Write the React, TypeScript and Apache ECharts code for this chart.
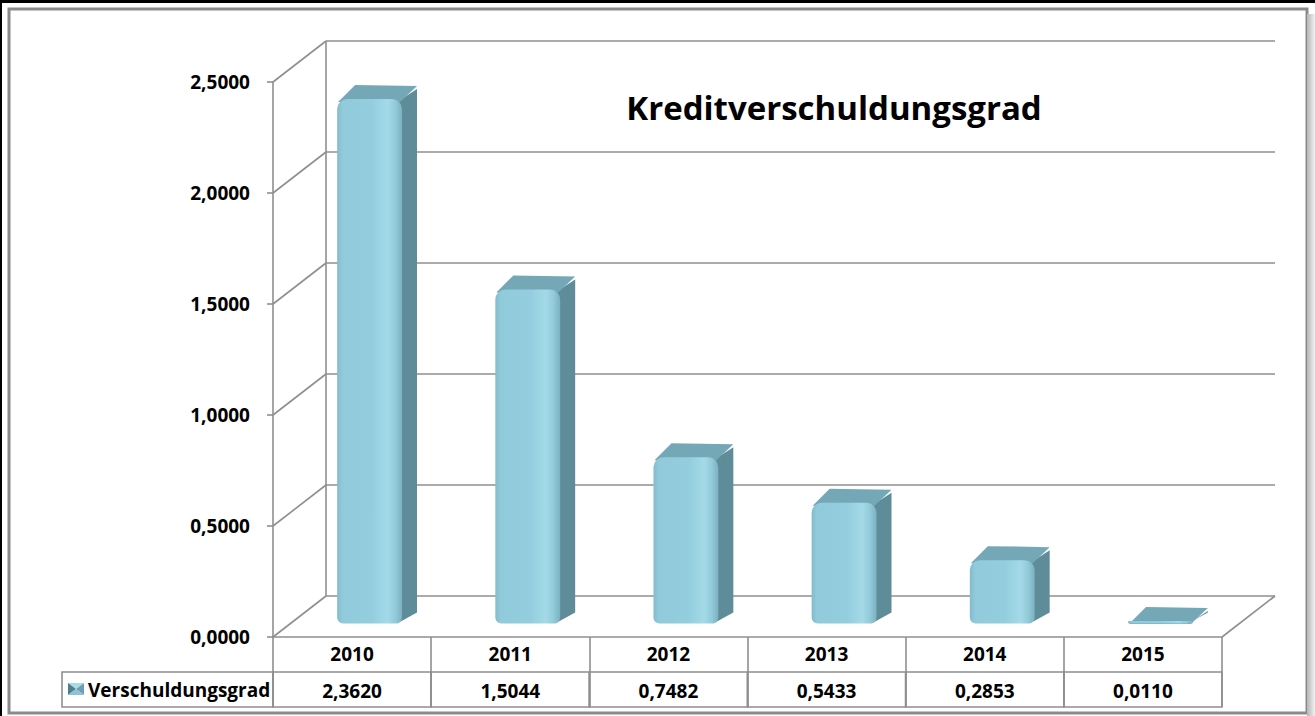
import React, { useEffect, useRef } from "react";
import * as echarts from "echarts";

const TITLE = "Kreditverschuldungsgrad";
const SERIES_NAME = "Verschuldungsgrad";
const YEARS = ["2010", "2011", "2012", "2013", "2014", "2015"];
const VALUES = [2.362, 1.5044, 0.7482, 0.5433, 0.2853, 0.011];
const Y_TICKS = [0, 0.5, 1, 1.5, 2, 2.5];

const FONT = "'Open Sans', 'Noto Sans', sans-serif";
const GRID_COLOR = "#8f8f8f";
// 3D perspective offsets (pixels) of the back wall relative to the front plane
const DEPTH_X = 53;
const DEPTH_Y = -41;
const BAR_FRONT = 0.33; // depth fraction of bar front face
const BAR_DX = 15; // bar thickness (pixels, x)
const BAR_DY = -14; // bar thickness (pixels, y)
const BAR_WIDTH = 0.41; // fraction of band
const ROW_H = 35;

const fmt = (v: number) => v.toFixed(4).replace(".", ",");

function renderWall(params: any, api: any) {
  const cs = params.coordSys;
  const t = api.value(1);
  const y = api.coord([0, t])[1];
  const left = cs.x;
  const right = cs.x + cs.width;
  const ls = { stroke: GRID_COLOR, lineWidth: 1.6 };
  const children: any[] = [
    { type: "line", shape: { x1: left, y1: y, x2: left + DEPTH_X, y2: y + DEPTH_Y }, style: ls },
    { type: "line", shape: { x1: left + DEPTH_X, y1: y + DEPTH_Y, x2: right + DEPTH_X, y2: y + DEPTH_Y }, style: ls },
  ];
  if (t === 0) {
    const yTop = api.coord([0, Y_TICKS[Y_TICKS.length - 1]])[1];
    children.push(
      { type: "line", shape: { x1: right, y1: y, x2: right + DEPTH_X, y2: y + DEPTH_Y }, style: ls },
      { type: "line", shape: { x1: left + DEPTH_X, y1: y + DEPTH_Y, x2: left + DEPTH_X, y2: yTop + DEPTH_Y }, style: ls }
    );
  }
  return { type: "group", children };
}

function renderBar(params: any, api: any) {
  const i = api.value(0);
  const v = api.value(1);
  const [cx, y0] = api.coord([i, 0]);
  const yv = api.coord([i, v])[1];
  const band = api.size([1, 0])[0];
  const w = band * BAR_WIDTH;
  const ox = DEPTH_X * BAR_FRONT;
  const oy = DEPTH_Y * BAR_FRONT;
  const bx = BAR_DX;
  const by = BAR_DY;
  const x0 = cx + ox - w / 2;
  const x1 = x0 + w;
  const yb = y0 + oy;
  const yt = yv + oy;
  const h = Math.max(yb - yt, 0.5);
  const r = Math.min(10, h / 2);
  const rb = Math.min(6, h / 2);
  const children: any[] = [];
  // side face
  children.push({
    type: "polygon",
    shape: { points: [[x1 - 5, yt + 3], [x1 + bx, yt + by + 4], [x1 + bx, yb + by + 3], [x1 - 5, yb]] },
    style: { fill: "#5f8c99" },
  });
  // top face
  children.push({
    type: "polygon",
    shape: { points: [[x0 + 1, yt + 3], [x1 - 2, yt + 3], [x1 + bx, yt + by + 1], [x0 + bx + 3, yt + by]] },
    style: { fill: "#74a8b7" },
  });
  // front face
  children.push({
    type: "rect",
    shape: { x: x0, y: yt, width: w, height: h, r: [r, r, rb, rb] },
    style: {
      fill: { type: "linear", x: 0, y: 0, x2: 1, y2: 0, colorStops: [
        { offset: 0, color: "#83bccc" },
        { offset: 0.08, color: "#90cadb" },
        { offset: 0.55, color: "#94cede" },
        { offset: 0.78, color: "#a4dae8" },
        { offset: 0.9, color: "#92cad9" },
        { offset: 1, color: "#7bb1c0" },
      ] },
    },
  });
  // data table value cell
  children.push({
    type: "rect",
    shape: { x: cx - band / 2, y: y0 + ROW_H, width: band, height: ROW_H },
    style: { fill: "none", stroke: GRID_COLOR, lineWidth: 1.6 },
  });
  children.push({
    type: "text",
    style: {
      x: cx, y: y0 + ROW_H * 1.5 + 1, text: fmt(v),
      fill: "#000", fontSize: 19, fontWeight: "bold", fontFamily: FONT,
      align: "center", verticalAlign: "middle", textAlign: "center", textVerticalAlign: "middle",
    },
  });
  return { type: "group", children };
}

export default function App() {
  const ref = useRef<HTMLDivElement>(null);
  useEffect(() => {
    document.body.style.margin = "0";
    const chart = echarts.init(ref.current!, null, { renderer: "svg" });
    chart.setOption({
      animation: false,
      backgroundColor: "#ffffff",
      grid: { left: 273, right: 93, top: 82, bottom: 79, containLabel: false },
      xAxis: {
        type: "category",
        data: YEARS,
        axisLine: { show: true, lineStyle: { color: GRID_COLOR, width: 1.6 } },
        axisTick: { show: true, length: ROW_H * 2, lineStyle: { color: GRID_COLOR, width: 1.6 } },
        axisLabel: {
          margin: 17, verticalAlign: "middle", color: "#000", fontSize: 19,
          fontWeight: "bold", fontFamily: FONT,
        },
        splitLine: { show: false },
      },
      yAxis: {
        type: "value",
        min: Y_TICKS[0],
        max: Y_TICKS[Y_TICKS.length - 1],
        interval: Y_TICKS[1] - Y_TICKS[0],
        axisLine: { show: true, lineStyle: { color: GRID_COLOR, width: 1.6 } },
        axisTick: { show: true, length: 6, lineStyle: { color: GRID_COLOR, width: 1.6 } },
        axisLabel: {
          margin: 23, color: "#000", fontSize: 19, fontWeight: "bold", fontFamily: FONT,
          formatter: (v: number) => fmt(v),
        },
        splitLine: { show: false },
      },
      series: [
        {
          type: "custom",
          name: "wall",
          renderItem: renderWall,
          data: Y_TICKS.map((t) => [0, t]),
          encode: { x: 0, y: 1 },
          silent: true,
          z: 1,
        },
        {
          type: "custom",
          name: SERIES_NAME,
          renderItem: renderBar,
          data: VALUES.map((v, i) => [i, v]),
          encode: { x: 0, y: 1 },
          z: 2,
        },
      ],
      graphic: [
        { type: "rect", shape: { x: 0, y: 0, width: 1315, height: 3 }, style: { fill: "#000" } },
        { type: "rect", shape: { x: 0, y: 0, width: 2, height: 716 }, style: { fill: "#000" } },
        {
          type: "rect", shape: { x: 9, y: 9, width: 1298, height: 704 },
          style: { fill: "none", stroke: "#8a8a8a", lineWidth: 3 },
        },
        {
          type: "rect", shape: { x: 1307, y: 14, width: 8, height: 702 },
          style: {
            fill: { type: "linear", x: 0, y: 0, x2: 1, y2: 0, colorStops: [
              { offset: 0, color: "#b5b5b5" }, { offset: 1, color: "#f2f2f2" } ] },
          },
        },
        {
          type: "text", x: 834, y: 107,
          style: {
            text: TITLE, fill: "#000", fontSize: 33, fontWeight: "bold", fontFamily: FONT,
            align: "center", verticalAlign: "middle", textAlign: "center", textVerticalAlign: "middle",
          },
        },
        {
          type: "rect", shape: { x: 62, y: 672, width: 211, height: ROW_H },
          style: { fill: "none", stroke: GRID_COLOR, lineWidth: 1.6 },
        },
        {
          type: "polygon", shape: { points: [[68, 683], [84, 683], [76, 689]] },
          style: { fill: "#a9dbe8" },
        },
        {
          type: "polygon", shape: { points: [[68, 683], [76, 689], [68, 695]] },
          style: { fill: "#4f7f8d" },
        },
        {
          type: "polygon", shape: { points: [[84, 683], [84, 695], [76, 689]] },
          style: { fill: "#6d9fae" },
        },
        {
          type: "polygon", shape: { points: [[68, 695], [84, 695], [76, 689]] },
          style: { fill: "#8cc4d4" },
        },
        {
          type: "text", x: 88, y: 690,
          style: {
            text: SERIES_NAME, fill: "#000", fontSize: 19, fontWeight: "bold", fontFamily: FONT,
            align: "left", verticalAlign: "middle", textAlign: "left", textVerticalAlign: "middle",
          },
        },
      ],
    });
    return () => chart.dispose();
  }, []);
  return (
    <div
      ref={ref}
      style={{ position: "fixed", left: 0, top: 0, width: 1315, height: 716, background: "#fff" }}
    />
  );
}
